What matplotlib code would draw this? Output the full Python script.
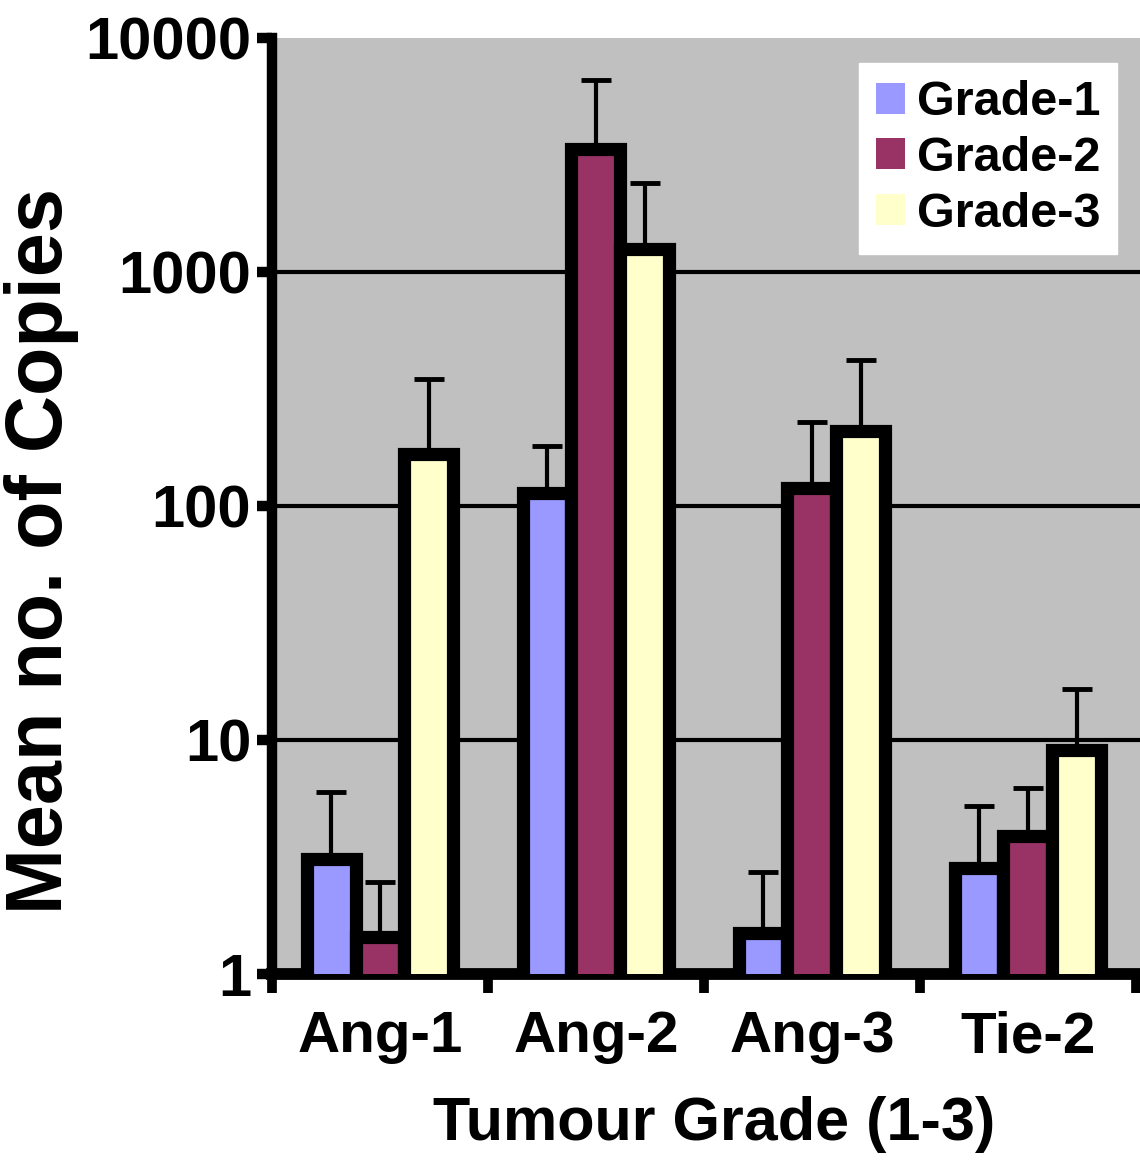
import matplotlib
matplotlib.use("Agg")
import matplotlib.pyplot as plt
import numpy as np
from matplotlib.ticker import FixedLocator, NullLocator, FixedFormatter

# data
genes = ["Ang-1", "Ang-2", "Ang-3", "Tie-2"]
grades = ["Grade-1", "Grade-2", "Grade-3"]
grade1 = [3.1, 114, 1.5, 2.84]
grade2 = [1.44, 3355, 119, 3.89]
grade3 = [167, 1254, 209, 9.06]
grade1_top = [6.0, 180, 2.73, 5.22]
grade2_top = [2.47, 6620, 229, 6.24]
grade3_top = [349, 2400, 421, 16.5]
yticks = [1, 10, 100, 1000, 10000]

colors = ["#9999FF", "#993366", "#FFFFCC"]
font = ["Liberation Sans", "DejaVu Sans"]

fig = plt.figure(figsize=(11.4, 11.69), dpi=100)
ax = fig.add_axes([0.2386, 0.1668, 0.7614, 0.8007])
ax.set_facecolor("#C0C0C0")
ax.set_yscale("log")
ax.set_ylim(1, 10000)
ax.set_xlim(-0.5, 3.52)

x = np.arange(len(genes))
w = 0.226
series = [grade1, grade2, grade3]
tops = [grade1_top, grade2_top, grade3_top]
for i in range(3):
    vals = np.array(series[i])
    up = np.array(tops[i]) - vals
    pos = x + (i - 1) * w
    ax.errorbar(pos, vals, yerr=[np.zeros_like(vals), up], fmt="none",
                ecolor="black", elinewidth=3, capsize=10.5, capthick=3.5, zorder=2)
    ax.bar(pos, vals, width=w, color=colors[i], edgecolor="black",
           linewidth=9.5, label=grades[i], zorder=3)

# grid lines at the decades
for v in [10, 100, 1000]:
    ax.axhline(v, color="black", linewidth=3, zorder=1)

ax.yaxis.set_major_locator(FixedLocator(yticks))
ax.yaxis.set_major_formatter(FixedFormatter([str(t) for t in yticks]))
ax.yaxis.set_minor_locator(NullLocator())
ax.set_xticks([-0.5, 0.5, 1.5, 2.5, 3.5])
ax.set_xticklabels([])
ax.set_xticks(x, minor=True)
ax.set_xticklabels(genes, minor=True)

for s in ["top", "right"]:
    ax.spines[s].set_visible(False)
ax.spines["left"].set_linewidth(7.5)
ax.spines["bottom"].set_linewidth(8.5)
ax.tick_params(axis="y", which="major", length=11, width=7.5, pad=4)
ax.tick_params(axis="x", which="major", length=14, width=7)
ax.tick_params(axis="x", which="minor", length=0, pad=26)

for lab in ax.get_yticklabels():
    lab.set_fontfamily(font)
    lab.set_fontweight("bold")
    lab.set_fontsize(43)
for lab in ax.get_xticklabels(minor=True):
    lab.set_fontfamily(font)
    lab.set_fontweight("bold")
    lab.set_fontsize(42)

ax.set_xlabel("Tumour Grade (1-3)", fontsize=44, fontweight="bold", family=font)
ax.xaxis.set_label_coords(0.509, -0.13)
ax.set_ylabel("Mean no. of Copies", fontsize=57, fontweight="bold", family=font)
ax.yaxis.set_label_coords(-0.265, 0.452)
ax.yaxis.label.set_verticalalignment("center")

leg = ax.legend(loc="upper right", bbox_to_anchor=(0.974, 0.973), borderaxespad=0,
                frameon=True, fancybox=False, framealpha=1, edgecolor="white",
                prop={"family": font, "weight": "bold", "size": 35},
                handlelength=0.6, handleheight=0.6, handletextpad=0.25,
                labelspacing=0.22, borderpad=0.35)
for h in leg.legend_handles:
    h.set_linewidth(0)

fig.savefig("out.png", dpi=100)
